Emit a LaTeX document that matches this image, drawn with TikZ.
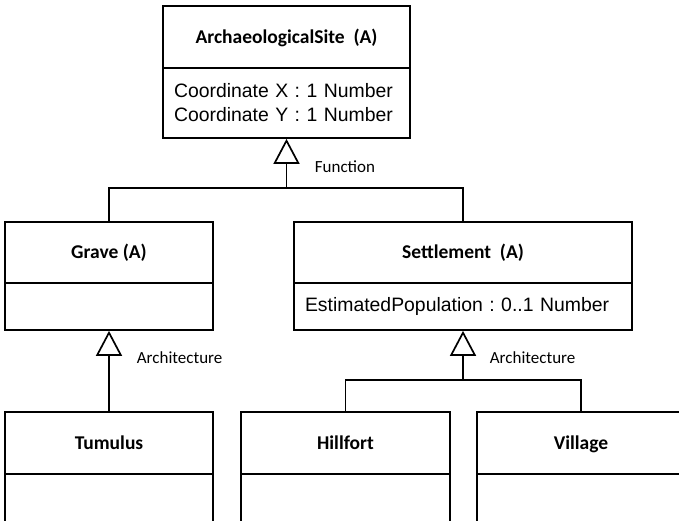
\documentclass[tikz,border=0pt]{standalone}
\usepackage{fontspec}
\setmainfont{Carlito}
\newfontfamily\attrfont{Liberation Sans}
\usetikzlibrary{arrows.meta}
\frenchspacing
\begin{document}
\begin{tikzpicture}[x=1pt,y=-1pt, line width=1.7pt,
  hdr/.style={draw, inner sep=0pt, align=center, text height=13pt, text depth=0.5pt,
    font=\fontsize{19.5}{23}\selectfont\bfseries},
  attr/.style={draw, inner xsep=11pt, inner ysep=0pt, align=left,
    font=\attrfont\fontsize{19.4}{24}\selectfont},
  lbl/.style={anchor=west, inner sep=0pt, font=\fontsize{17}{20}\selectfont},
  gen/.style={-{Triangle[open, width=26pt, length=25pt]}}]
\useasboundingbox (0,0) rectangle (679,520);
\clip (0,0) rectangle (679,520);

% top class
\node[hdr, minimum width=247pt, minimum height=62pt] (th) at (286.5,37) {ArchaeologicalSite\ \ (A)};
\node[attr, text width=225pt, minimum height=70pt] (ta) at (286.5,103)
  {Coordinate X : 1 Number\\Coordinate Y : 1 Number};

% second level
\node[hdr, minimum width=208pt, minimum height=61pt] (gh) at (109,252.5) {Grave (A)};
\node[attr, minimum width=208pt, minimum height=47pt] (ga) at (109,306.5) {};
\node[hdr, minimum width=338pt, minimum height=61pt] (sh) at (463,252.5) {Settlement\ \ (A)};
\node[attr, text width=316pt, minimum height=47pt] (sa) at (463,306.5)
  {EstimatedPopulation : 0..1 Number};

% third level
\node[hdr, minimum width=208pt, minimum height=62pt] (tuh) at (109,443) {Tumulus};
\node[attr, minimum width=208pt, minimum height=70pt] (tua) at (109,509) {};
\node[hdr, minimum width=209pt, minimum height=62pt] (hh) at (345.5,443) {Hillfort};
\node[attr, minimum width=209pt, minimum height=70pt] (ha) at (345.5,509) {};
\node[hdr, minimum width=208pt, minimum height=62pt] (vh) at (581,443) {Village};
\node[attr, minimum width=208pt, minimum height=70pt] (va) at (581,509) {};

% generalisation: Function
\coordinate (fj) at (286.5,188);
\draw (gh.north) |- (fj) -| (sh.north);
\draw[gen] (fj) -- (ta.south);
\node[lbl] (fl) at (314,167) {Function};

% generalisation: Architecture (Grave)
\draw[gen] (tuh.north) -- (ga.south);
\node[lbl] (al1) at (136,358) {Architecture};

% generalisation: Architecture (Settlement)
\coordinate (aj) at (463,380);
\draw (hh.north) |- (aj) -| (vh.north);
\draw[gen] (aj) -- (sa.south);
\node[lbl] (al2) at (489,358) {Architecture};
\end{tikzpicture}
\end{document}
